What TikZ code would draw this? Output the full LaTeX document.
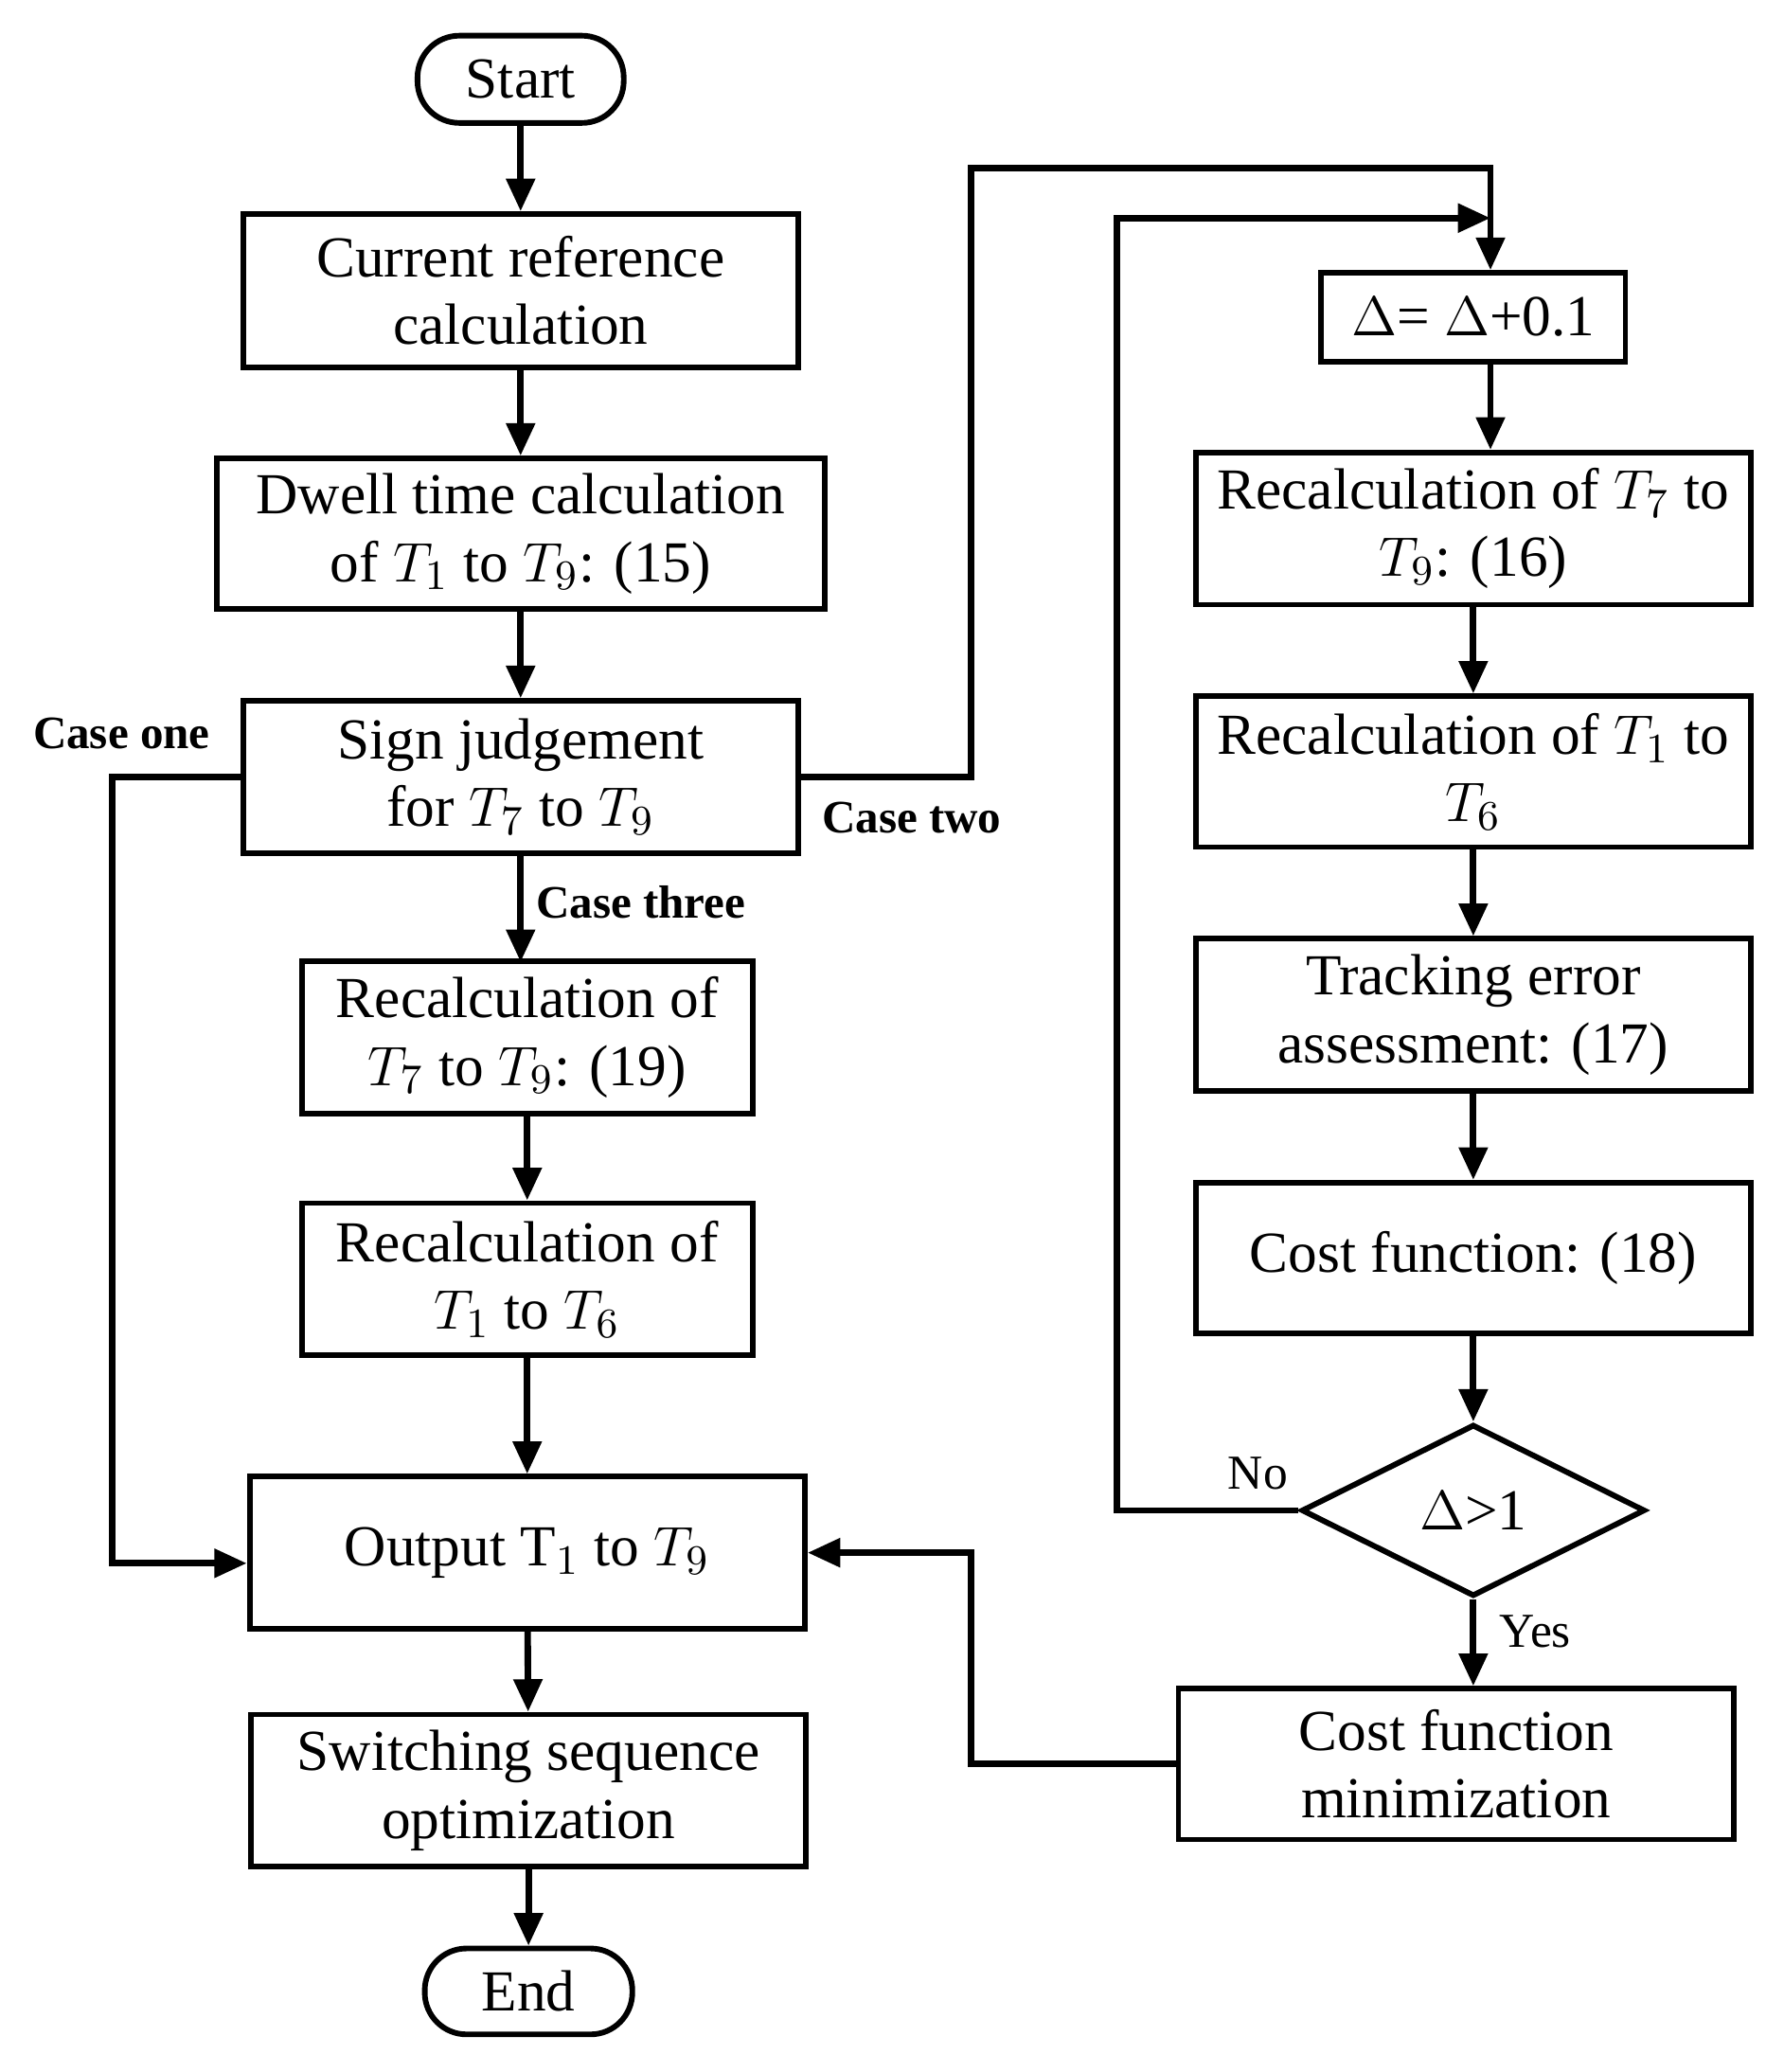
\documentclass[tikz,border=0pt]{standalone}
\usepackage{fontspec}
\setmainfont{Liberation Serif}
\usetikzlibrary{shapes.geometric,arrows.meta}
\tikzset{
  box/.style={draw,line width=1.2pt,align=center,inner sep=0pt,font=\fontsize{12.5}{14.5}\selectfont},
  term/.style={box,rounded corners=9pt},
  link/.style={line width=1.4pt,-{Triangle[length=7pt,width=6pt]}},
  tag/.style={font=\fontsize{10}{12}\selectfont\bfseries},
  note/.style={font=\fontsize{10.5}{12}\selectfont}
}
\begin{document}
\begin{tikzpicture}[x=0.01cm,y=-0.01cm]
\useasboundingbox (0,0) rectangle (1350,1568);
% left column
\node[term,minimum width=1.56cm,minimum height=0.66cm] (start) at (394,60) {Start};
\node[box,minimum width=4.2cm,minimum height=1.16cm] (cref) at (394,220) {Current reference\\calculation};
\node[box,minimum width=4.6cm,minimum height=1.14cm] (dwell) at (394,404) {Dwell time calculation\\of $T_1$ to $T_9$: (15)};
\node[box,minimum width=4.2cm,minimum height=1.15cm] (sign) at (394,588) {Sign judgement\\for $T_7$ to $T_9$};
\node[box,minimum width=3.41cm,minimum height=1.15cm] (recA) at (399,785) {Recalculation of\\$T_7$ to $T_9$: (19)};
\node[box,minimum width=3.41cm,minimum height=1.15cm] (recB) at (399,968) {Recalculation of\\$T_1$ to $T_6$};
\node[box,minimum width=4.2cm,minimum height=1.15cm] (out) at (399,1175) {Output T$_1$ to $T_9$};
\node[box,minimum width=4.2cm,minimum height=1.15cm] (swseq) at (400,1355) {Switching sequence\\optimization};
\node[term,minimum width=1.57cm,minimum height=0.65cm] (fin) at (400,1507) {End};
% right column
\node[box,minimum width=2.3cm,minimum height=0.67cm] (delta) at (1115,240) {$\Delta$= $\Delta$+0.1};
\node[box,minimum width=4.2cm,minimum height=1.15cm] (recC) at (1115,400) {Recalculation of $T_7$ to\\$T_9$: (16)};
\node[box,minimum width=4.2cm,minimum height=1.14cm] (recD) at (1115,584) {Recalculation of $T_1$ to\\$T_6$};
\node[box,minimum width=4.2cm,minimum height=1.15cm] (track) at (1115,768) {Tracking error\\assessment: (17)};
\node[box,minimum width=4.2cm,minimum height=1.14cm] (cost) at (1115,952) {Cost function: (18)};
\node[box,diamond,aspect=2,minimum width=2.6cm,minimum height=1.3cm] (test) at (1115,1143) {$\Delta$>1};
\node[box,minimum width=4.2cm,minimum height=1.14cm] (cmin) at (1102,1335) {Cost function\\minimization};
\coordinate (top1) at (1128,127);
\coordinate (top2) at (1128,165);
% straight links
\draw[link] (start) -- (cref);
\draw[link] (cref) -- (dwell);
\draw[link] (dwell) -- (sign);
\draw[link] (sign.south) ++(0,0) -- (394,728);
\draw[link] (recA) -- (recB);
\draw[link] (recB) -- (out);
\draw[link] (out) -- (swseq);
\draw[link] (swseq) -- (fin);
\draw[link] (top2) -- (delta.north -| top2);
\draw[link] (delta.south -| top2) -- (recC.north -| top2);
\draw[link] (recC) -- (recD);
\draw[link] (recD) -- (track);
\draw[link] (track) -- (cost);
\draw[link] (cost) -- (test);
\draw[link] (test.south) -- (test.south |- cmin.north);
% bent links
\draw[line width=1.4pt] (sign.east) -- (735,588) -- (735,127) -- (top1) -- (top2);
\draw[link] (test.west) -- (845,1143) -- (845,165) -- (top2);
\draw[link] (sign.west) -- (85,588) -- (85,1183) -- (out.west |- 0,1183);
\draw[link] (cmin.west) -- (735,1335) -- (735,1175) -- (out.east);
% labels
\node[tag] (lone) at (92,555) {Case one};
\node[tag] (ltwo) at (690,619) {Case two};
\node[tag] (lthree) at (485,683) {Case three};
\node[note] (lno) at (952,1115) {No};
\node[note] (lyes) at (1162,1235) {Yes};
\end{tikzpicture}
\end{document}
